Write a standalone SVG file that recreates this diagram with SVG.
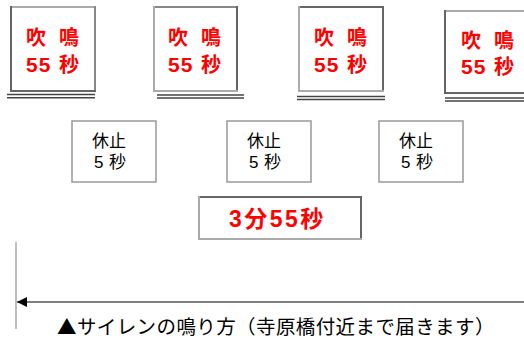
<svg xmlns="http://www.w3.org/2000/svg" width="524" height="340" viewBox="0 0 524 340">
<style>
.bg{fill:#fff}
.lt{stroke:#aaa;stroke-width:2}
.dk{stroke:#666;stroke-width:2}
.md{stroke:#888;stroke-width:2}
.dbl{stroke:#444;stroke-width:1.6}
.red{fill:#f00;font-family:"Liberation Sans","Noto Sans CJK JP",sans-serif;font-weight:bold}
.blk{fill:#000;font-family:"Liberation Sans","Noto Sans CJK JP",sans-serif;font-size:17px}
.rest{fill:#fff;stroke:#999;stroke-width:1.5}
.cap{fill:#000;font-family:"Noto Sans CJK JP",sans-serif;font-size:19.5px;letter-spacing:0.4px}
</style>
<defs>
<marker id="ah" markerWidth="12" markerHeight="10" refX="11" refY="5" orient="auto" markerUnits="userSpaceOnUse">
<path d="M1,0 L11,5 L1,10 Z" fill="#000"/>
</marker>
</defs>
<rect width="524" height="340" fill="#fff"/>

<g id="blow1">
<rect class="bg" x="11" y="7" width="84" height="84"/>
<line class="lt" x1="11" y1="7" x2="95" y2="7"/>
<line class="dk" x1="11" y1="6" x2="11" y2="91"/>
<line class="md" x1="95" y1="6" x2="95" y2="91"/>
<line class="dk" x1="10" y1="91" x2="96" y2="91"/>
<line class="dbl" x1="7" y1="94.5" x2="95" y2="94.5"/>
<line class="dbl" x1="7" y1="97.7" x2="95" y2="97.7"/>
<text class="red" font-size="20" x="26" y="45">吹</text>
<text class="red" font-size="20" x="59" y="45">鳴</text>
<text class="red" font-size="21" x="26" y="72" letter-spacing="1">55</text>
<text class="red" font-size="20" x="59" y="72">秒</text>
</g>

<g id="blow2">
<rect class="bg" x="154" y="7" width="83" height="84"/>
<line class="md" x1="154" y1="7" x2="237" y2="7"/>
<line class="lt" x1="154" y1="6" x2="154" y2="91"/>
<line class="dk" x1="237" y1="6" x2="237" y2="91"/>
<line class="lt" x1="153" y1="91" x2="238" y2="91"/>
<line class="dbl" x1="157" y1="95" x2="244" y2="95"/>
<line class="dbl" x1="157" y1="98" x2="244" y2="98"/>
<text class="red" font-size="20" x="168" y="45">吹</text>
<text class="red" font-size="20" x="201" y="45">鳴</text>
<text class="red" font-size="21" x="168" y="72" letter-spacing="1">55</text>
<text class="red" font-size="20" x="201" y="72">秒</text>
</g>

<g id="blow3">
<rect class="bg" x="299" y="7" width="84" height="84"/>
<line class="dk" x1="299" y1="7" x2="383" y2="7"/>
<line class="lt" x1="299" y1="6" x2="299" y2="91"/>
<line class="dk" x1="383" y1="6" x2="383" y2="91"/>
<line class="lt" x1="298" y1="91" x2="384" y2="91"/>
<line class="dbl" x1="297" y1="96.5" x2="385" y2="96.5"/>
<line class="dbl" x1="297" y1="99.5" x2="385" y2="99.5"/>
<text class="red" font-size="20" x="314" y="45">吹</text>
<text class="red" font-size="20" x="347" y="45">鳴</text>
<text class="red" font-size="21" x="314" y="72" letter-spacing="1">55</text>
<text class="red" font-size="20" x="347" y="72">秒</text>
</g>

<g id="blow4">
<rect class="bg" x="445" y="11" width="90" height="82"/>
<line class="lt" x1="445" y1="11" x2="524" y2="11"/>
<line class="dk" x1="445" y1="10" x2="445" y2="93"/>
<line class="dk" x1="444" y1="93" x2="524" y2="93"/>
<line class="dbl" x1="445" y1="98" x2="524" y2="98"/>
<line class="dbl" x1="445" y1="101" x2="524" y2="101"/>
<text class="red" font-size="20" x="461" y="48">吹</text>
<text class="red" font-size="20" x="494" y="48">鳴</text>
<text class="red" font-size="21" x="461" y="74" letter-spacing="1">55</text>
<text class="red" font-size="20" x="494" y="74">秒</text>
</g>

<g id="rest1">
<rect class="rest" x="72" y="121" width="84" height="61"/>
<text class="blk" x="92" y="147">休止</text>
<text class="blk" x="94" y="168">5</text>
<text class="blk" x="109" y="168">秒</text>
</g>
<g id="rest2">
<rect class="rest" x="227" y="121" width="84" height="61"/>
<text class="blk" x="247" y="147">休止</text>
<text class="blk" x="249" y="168">5</text>
<text class="blk" x="264" y="168">秒</text>
</g>
<g id="rest3">
<rect class="rest" x="379" y="121" width="84" height="61"/>
<text class="blk" x="399" y="147">休止</text>
<text class="blk" x="401" y="168">5</text>
<text class="blk" x="416" y="168">秒</text>
</g>

<g id="total">
<rect class="bg" x="199" y="197" width="162" height="42"/>
<line class="dk" x1="199" y1="197" x2="361" y2="197"/>
<line class="lt" x1="199" y1="196" x2="199" y2="240"/>
<line class="dk" x1="361" y1="196" x2="361" y2="240"/>
<line class="lt" x1="198" y1="239" x2="362" y2="239"/>
<text class="red" font-size="23" x="229" y="227" letter-spacing="2.5">3分55秒</text>
</g>

<g id="connectors">
<line x1="16" y1="242" x2="16" y2="329" stroke="#aaa" stroke-width="1.5"/>
<line x1="524" y1="302" x2="17" y2="302" stroke="#000" stroke-width="1" marker-end="url(#ah)"/>
</g>

<g id="caption">
<text class="cap" x="57" y="334">▲サイレンの鳴り方（寺原橋付近まで届きます）</text>
</g>
</svg>
